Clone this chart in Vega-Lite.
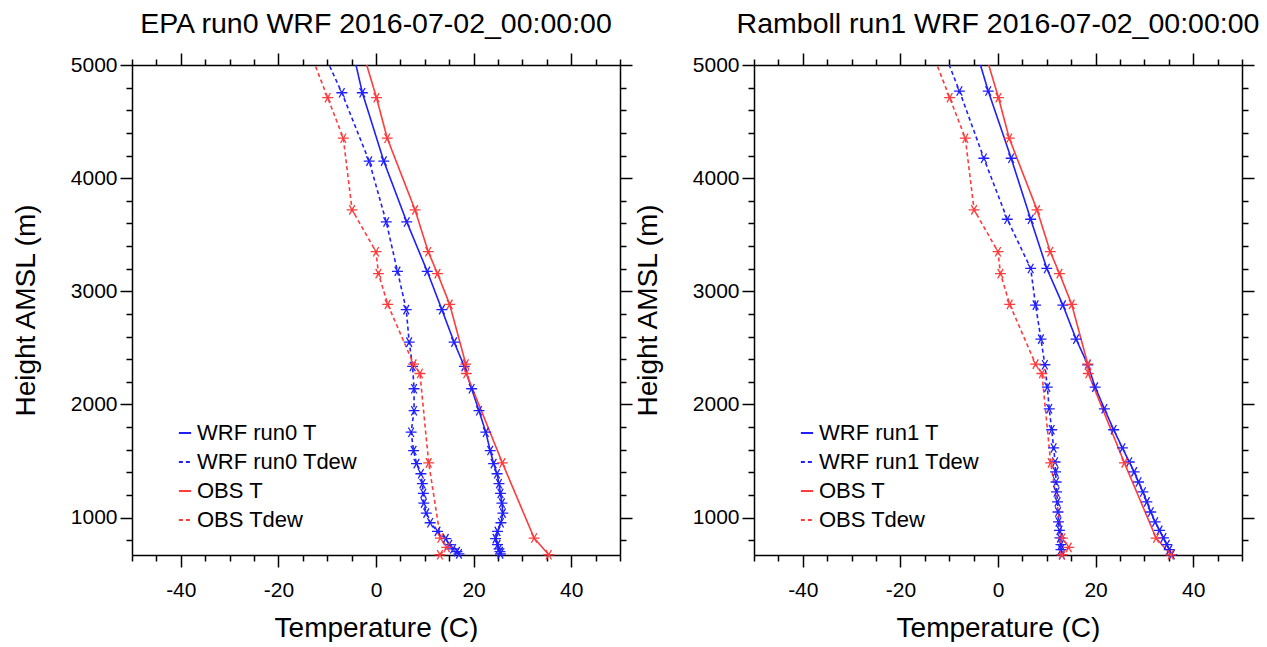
{
  "$schema": "https://vega.github.io/schema/vega-lite/v6.json",
  "background": "white",
  "padding": {"left": 12, "top": 9, "right": 10, "bottom": 0},
  "spacing": 1,
  "config": {
    "view": {"stroke": null},
    "font": "Liberation Sans",
    "title": {"fontSize": 28.5, "fontWeight": "normal", "color": "black", "anchor": "middle", "offset": 14, "font": "Liberation Sans"},
    "axis": {"grid": false, "domainColor": "black", "tickColor": "black", "domainWidth": 1.5, "tickWidth": 1.5, "labelColor": "black", "titleColor": "black", "labelFont": "Liberation Sans", "titleFont": "Liberation Sans", "titleFontWeight": "normal", "labelOverlap": false, "labelFlush": false}
  },
  "resolve": {"scale": {"color": "independent", "strokeDash": "independent", "stroke": "independent", "x": "independent", "y": "independent"}, "legend": {"color": "independent", "strokeDash": "independent"}},
  "datasets": {
    "left": [
      {"series": "WRF run0 T", "h": 5000, "t": -4.1}, {"series": "WRF run0 T", "h": 4755, "t": -2.8}, {"series": "WRF run0 T", "h": 4150, "t": 1.6}, {"series": "WRF run0 T", "h": 3613, "t": 6.3}, {"series": "WRF run0 T", "h": 3177, "t": 10.5}, {"series": "WRF run0 T", "h": 2838, "t": 13.5}, {"series": "WRF run0 T", "h": 2551, "t": 16.0}, {"series": "WRF run0 T", "h": 2336, "t": 18.1}, {"series": "WRF run0 T", "h": 2139, "t": 19.6}, {"series": "WRF run0 T", "h": 1945, "t": 21.1}, {"series": "WRF run0 T", "h": 1755, "t": 22.5}, {"series": "WRF run0 T", "h": 1593, "t": 23.4}, {"series": "WRF run0 T", "h": 1478, "t": 24.1}, {"series": "WRF run0 T", "h": 1388, "t": 24.8}, {"series": "WRF run0 T", "h": 1300, "t": 25.2}, {"series": "WRF run0 T", "h": 1215, "t": 25.5}, {"series": "WRF run0 T", "h": 1128, "t": 25.8}, {"series": "WRF run0 T", "h": 1040, "t": 26.0}, {"series": "WRF run0 T", "h": 955, "t": 25.6}, {"series": "WRF run0 T", "h": 879, "t": 24.9}, {"series": "WRF run0 T", "h": 815, "t": 24.5}, {"series": "WRF run0 T", "h": 762, "t": 24.9}, {"series": "WRF run0 T", "h": 725, "t": 25.2}, {"series": "WRF run0 T", "h": 700, "t": 25.4}, {"series": "WRF run0 T", "h": 680, "t": 25.5},
      {"series": "WRF run0 Tdew", "h": 5000, "t": -9.6}, {"series": "WRF run0 Tdew", "h": 4755, "t": -7.0}, {"series": "WRF run0 Tdew", "h": 4150, "t": -1.4}, {"series": "WRF run0 Tdew", "h": 3613, "t": 2.1}, {"series": "WRF run0 Tdew", "h": 3177, "t": 4.4}, {"series": "WRF run0 Tdew", "h": 2838, "t": 6.2}, {"series": "WRF run0 Tdew", "h": 2551, "t": 6.8}, {"series": "WRF run0 Tdew", "h": 2336, "t": 7.5}, {"series": "WRF run0 Tdew", "h": 2139, "t": 7.8}, {"series": "WRF run0 Tdew", "h": 1945, "t": 7.8}, {"series": "WRF run0 Tdew", "h": 1755, "t": 7.2}, {"series": "WRF run0 Tdew", "h": 1593, "t": 7.7}, {"series": "WRF run0 Tdew", "h": 1478, "t": 8.3}, {"series": "WRF run0 Tdew", "h": 1388, "t": 9.2}, {"series": "WRF run0 Tdew", "h": 1300, "t": 9.5}, {"series": "WRF run0 Tdew", "h": 1215, "t": 9.7}, {"series": "WRF run0 Tdew", "h": 1128, "t": 9.8}, {"series": "WRF run0 Tdew", "h": 1040, "t": 10.3}, {"series": "WRF run0 Tdew", "h": 955, "t": 11.1}, {"series": "WRF run0 Tdew", "h": 879, "t": 12.6}, {"series": "WRF run0 Tdew", "h": 815, "t": 14.3}, {"series": "WRF run0 Tdew", "h": 762, "t": 15.0}, {"series": "WRF run0 Tdew", "h": 725, "t": 15.8}, {"series": "WRF run0 Tdew", "h": 700, "t": 16.6}, {"series": "WRF run0 Tdew", "h": 680, "t": 17.0},
      {"series": "OBS T", "h": 5000, "t": -1.9}, {"series": "OBS T", "h": 4711, "t": 0.1}, {"series": "OBS T", "h": 4353, "t": 2.3}, {"series": "OBS T", "h": 3720, "t": 8.0}, {"series": "OBS T", "h": 3350, "t": 10.7}, {"series": "OBS T", "h": 3157, "t": 12.6}, {"series": "OBS T", "h": 2885, "t": 15.1}, {"series": "OBS T", "h": 2357, "t": 18.4}, {"series": "OBS T", "h": 2274, "t": 18.5}, {"series": "OBS T", "h": 1484, "t": 25.9}, {"series": "OBS T", "h": 820, "t": 32.4}, {"series": "OBS T", "h": 672, "t": 35.4},
      {"series": "OBS Tdew", "h": 5000, "t": -12.5}, {"series": "OBS Tdew", "h": 4711, "t": -9.9}, {"series": "OBS Tdew", "h": 4353, "t": -6.7}, {"series": "OBS Tdew", "h": 3720, "t": -4.9}, {"series": "OBS Tdew", "h": 3350, "t": 0.0}, {"series": "OBS Tdew", "h": 3157, "t": 0.5}, {"series": "OBS Tdew", "h": 2885, "t": 2.4}, {"series": "OBS Tdew", "h": 2357, "t": 7.7}, {"series": "OBS Tdew", "h": 2274, "t": 9.0}, {"series": "OBS Tdew", "h": 1484, "t": 10.8}, {"series": "OBS Tdew", "h": 820, "t": 13.2}, {"series": "OBS Tdew", "h": 737, "t": 14.5}, {"series": "OBS Tdew", "h": 672, "t": 13.1}
    ],
    "right": [
      {"series": "WRF run1 T", "h": 5000, "t": -3.6}, {"series": "WRF run1 T", "h": 4770, "t": -2.0}, {"series": "WRF run1 T", "h": 4176, "t": 2.7}, {"series": "WRF run1 T", "h": 3637, "t": 6.7}, {"series": "WRF run1 T", "h": 3202, "t": 10.0}, {"series": "WRF run1 T", "h": 2878, "t": 13.3}, {"series": "WRF run1 T", "h": 2578, "t": 16.0}, {"series": "WRF run1 T", "h": 2351, "t": 18.4}, {"series": "WRF run1 T", "h": 2154, "t": 19.9}, {"series": "WRF run1 T", "h": 1962, "t": 21.8}, {"series": "WRF run1 T", "h": 1777, "t": 23.7}, {"series": "WRF run1 T", "h": 1616, "t": 25.5}, {"series": "WRF run1 T", "h": 1492, "t": 26.9}, {"series": "WRF run1 T", "h": 1404, "t": 27.9}, {"series": "WRF run1 T", "h": 1315, "t": 28.8}, {"series": "WRF run1 T", "h": 1227, "t": 29.7}, {"series": "WRF run1 T", "h": 1139, "t": 30.5}, {"series": "WRF run1 T", "h": 1050, "t": 31.3}, {"series": "WRF run1 T", "h": 962, "t": 32.2}, {"series": "WRF run1 T", "h": 888, "t": 33.1}, {"series": "WRF run1 T", "h": 821, "t": 33.9}, {"series": "WRF run1 T", "h": 762, "t": 34.6}, {"series": "WRF run1 T", "h": 717, "t": 35.1}, {"series": "WRF run1 T", "h": 673, "t": 35.6},
      {"series": "WRF run1 Tdew", "h": 5000, "t": -10.0}, {"series": "WRF run1 Tdew", "h": 4770, "t": -7.9}, {"series": "WRF run1 Tdew", "h": 4176, "t": -2.9}, {"series": "WRF run1 Tdew", "h": 3637, "t": 1.9}, {"series": "WRF run1 Tdew", "h": 3202, "t": 6.7}, {"series": "WRF run1 Tdew", "h": 2878, "t": 7.7}, {"series": "WRF run1 Tdew", "h": 2578, "t": 8.8}, {"series": "WRF run1 Tdew", "h": 2351, "t": 9.6}, {"series": "WRF run1 Tdew", "h": 2154, "t": 10.1}, {"series": "WRF run1 Tdew", "h": 1962, "t": 10.5}, {"series": "WRF run1 Tdew", "h": 1777, "t": 11.0}, {"series": "WRF run1 Tdew", "h": 1616, "t": 11.4}, {"series": "WRF run1 Tdew", "h": 1492, "t": 11.7}, {"series": "WRF run1 Tdew", "h": 1404, "t": 11.8}, {"series": "WRF run1 Tdew", "h": 1315, "t": 11.9}, {"series": "WRF run1 Tdew", "h": 1227, "t": 12.0}, {"series": "WRF run1 Tdew", "h": 1139, "t": 12.2}, {"series": "WRF run1 Tdew", "h": 1050, "t": 12.3}, {"series": "WRF run1 Tdew", "h": 962, "t": 12.4}, {"series": "WRF run1 Tdew", "h": 888, "t": 12.6}, {"series": "WRF run1 Tdew", "h": 821, "t": 12.7}, {"series": "WRF run1 Tdew", "h": 762, "t": 12.9}, {"series": "WRF run1 Tdew", "h": 717, "t": 12.9}, {"series": "WRF run1 Tdew", "h": 673, "t": 13.1},
      {"series": "OBS T", "h": 5000, "t": -1.9}, {"series": "OBS T", "h": 4711, "t": 0.1}, {"series": "OBS T", "h": 4353, "t": 2.3}, {"series": "OBS T", "h": 3720, "t": 8.0}, {"series": "OBS T", "h": 3350, "t": 10.7}, {"series": "OBS T", "h": 3157, "t": 12.6}, {"series": "OBS T", "h": 2885, "t": 15.1}, {"series": "OBS T", "h": 2357, "t": 18.4}, {"series": "OBS T", "h": 2274, "t": 18.5}, {"series": "OBS T", "h": 1484, "t": 25.9}, {"series": "OBS T", "h": 820, "t": 32.4}, {"series": "OBS T", "h": 672, "t": 35.4},
      {"series": "OBS Tdew", "h": 5000, "t": -12.5}, {"series": "OBS Tdew", "h": 4711, "t": -9.9}, {"series": "OBS Tdew", "h": 4353, "t": -6.7}, {"series": "OBS Tdew", "h": 3720, "t": -4.9}, {"series": "OBS Tdew", "h": 3350, "t": 0.0}, {"series": "OBS Tdew", "h": 3157, "t": 0.5}, {"series": "OBS Tdew", "h": 2885, "t": 2.4}, {"series": "OBS Tdew", "h": 2357, "t": 7.7}, {"series": "OBS Tdew", "h": 2274, "t": 9.0}, {"series": "OBS Tdew", "h": 1484, "t": 10.8}, {"series": "OBS Tdew", "h": 820, "t": 13.2}, {"series": "OBS Tdew", "h": 737, "t": 14.5}, {"series": "OBS Tdew", "h": 672, "t": 13.1}
    ]
  },
  "hconcat": [
    {
      "width": 488, "height": 490,
      "title": {"text": "EPA run0 WRF 2016-07-02_00:00:00"},
      "data": {"name": "left"},
      "resolve": {"axis": {"x": "independent", "y": "independent"}},
      "layer": [
        {
          "mark": {"type": "line", "strokeWidth": 1.6},
          "encoding": {
            "x": {"field": "t", "type": "quantitative", "scale": {"domain": [-50, 50], "nice": false, "zero": false},
              "axis": {"orient": "bottom", "title": "Temperature (C)", "values": [-50,-45,-40,-35,-30,-25,-20,-15,-10,-5,0,5,10,15,20,25,30,35,40,45,50], "labelExpr": "datum.value % 20 === 0 ? '' + datum.value : ''", "tickSize": {"condition": {"test": "datum.value % 20 === 0", "value": 12}, "value": 6}, "labelFontSize": 21, "labelPadding": 12, "titleFontSize": 28, "titlePadding": 14}},
            "y": {"field": "h", "type": "quantitative", "scale": {"domain": [670, 5000], "nice": false, "zero": false},
              "axis": {"orient": "left", "title": "Height AMSL (m)", "values": [800,1000,1200,1400,1600,1800,2000,2200,2400,2600,2800,3000,3200,3400,3600,3800,4000,4200,4400,4600,4800,5000], "labelExpr": "datum.value % 1000 === 0 ? '' + datum.value : ''", "tickSize": {"condition": {"test": "datum.value % 1000 === 0", "value": 12}, "value": 6}, "labelFontSize": 21, "labelPadding": 3, "titleFontSize": 28, "titlePadding": 30}},
            "order": {"field": "h", "type": "quantitative"},
            "color": {"field": "series", "type": "nominal", "scale": {"domain": ["WRF run0 T", "WRF run0 Tdew", "OBS T", "OBS Tdew"], "range": ["#1f1fff", "#1f1fff", "#ff3b3b", "#ff3b3b"]},
              "legend": {"orient": "none", "legendX": 42, "legendY": 357, "title": null, "symbolType": "stroke", "symbolSize": 150, "symbolStrokeWidth": 2, "labelFontSize": 22, "labelColor": "black", "labelLimit": 400, "rowPadding": 7, "labelOffset": 1, "padding": 0}},
            "strokeDash": {"field": "series", "type": "nominal", "scale": {"domain": ["WRF run0 T", "WRF run0 Tdew", "OBS T", "OBS Tdew"], "range": [[1, 0], [4, 3], [1, 0], [4, 3]]}}
          }
        },
        {
          "transform": [{"filter": "datum.h < 4999"}],
          "mark": {"type": "point", "filled": false, "size": 120, "strokeWidth": 1.3, "opacity": 1, "shape": "M-1,0L1,0M-0.5,-0.866L0.5,0.866M-0.5,0.866L0.5,-0.866"},
          "encoding": {
            "x": {"field": "t", "type": "quantitative", "scale": {"domain": [-50, 50], "nice": false, "zero": false},
              "axis": {"orient": "top", "title": null, "labels": false, "values": [-50,-45,-40,-35,-30,-25,-20,-15,-10,-5,0,5,10,15,20,25,30,35,40,45,50], "tickSize": {"condition": {"test": "datum.value % 20 === 0", "value": 12}, "value": 6}}},
            "y": {"field": "h", "type": "quantitative", "scale": {"domain": [670, 5000], "nice": false, "zero": false},
              "axis": {"orient": "right", "title": null, "labels": false, "values": [800,1000,1200,1400,1600,1800,2000,2200,2400,2600,2800,3000,3200,3400,3600,3800,4000,4200,4400,4600,4800,5000], "tickSize": {"condition": {"test": "datum.value % 1000 === 0", "value": 12}, "value": 6}}},
            "stroke": {"field": "series", "type": "nominal", "legend": null, "scale": {"domain": ["WRF run0 T", "WRF run0 Tdew", "OBS T", "OBS Tdew"], "range": ["#1f1fff", "#1f1fff", "#ff3b3b", "#ff3b3b"]}}
          }
        }
      ]
    },
    {
      "width": 488, "height": 490,
      "title": {"text": "Ramboll run1 WRF 2016-07-02_00:00:00"},
      "data": {"name": "right"},
      "resolve": {"axis": {"x": "independent", "y": "independent"}},
      "layer": [
        {
          "mark": {"type": "line", "strokeWidth": 1.6},
          "encoding": {
            "x": {"field": "t", "type": "quantitative", "scale": {"domain": [-50, 50], "nice": false, "zero": false},
              "axis": {"orient": "bottom", "title": "Temperature (C)", "values": [-50,-45,-40,-35,-30,-25,-20,-15,-10,-5,0,5,10,15,20,25,30,35,40,45,50], "labelExpr": "datum.value % 20 === 0 ? '' + datum.value : ''", "tickSize": {"condition": {"test": "datum.value % 20 === 0", "value": 12}, "value": 6}, "labelFontSize": 21, "labelPadding": 12, "titleFontSize": 28, "titlePadding": 14}},
            "y": {"field": "h", "type": "quantitative", "scale": {"domain": [670, 5000], "nice": false, "zero": false},
              "axis": {"orient": "left", "title": "Height AMSL (m)", "values": [800,1000,1200,1400,1600,1800,2000,2200,2400,2600,2800,3000,3200,3400,3600,3800,4000,4200,4400,4600,4800,5000], "labelExpr": "datum.value % 1000 === 0 ? '' + datum.value : ''", "tickSize": {"condition": {"test": "datum.value % 1000 === 0", "value": 12}, "value": 6}, "labelFontSize": 21, "labelPadding": 3, "titleFontSize": 28, "titlePadding": 30}},
            "order": {"field": "h", "type": "quantitative"},
            "color": {"field": "series", "type": "nominal", "scale": {"domain": ["WRF run1 T", "WRF run1 Tdew", "OBS T", "OBS Tdew"], "range": ["#1f1fff", "#1f1fff", "#ff3b3b", "#ff3b3b"]},
              "legend": {"orient": "none", "legendX": 42, "legendY": 357, "title": null, "symbolType": "stroke", "symbolSize": 150, "symbolStrokeWidth": 2, "labelFontSize": 22, "labelColor": "black", "labelLimit": 400, "rowPadding": 7, "labelOffset": 1, "padding": 0}},
            "strokeDash": {"field": "series", "type": "nominal", "scale": {"domain": ["WRF run1 T", "WRF run1 Tdew", "OBS T", "OBS Tdew"], "range": [[1, 0], [4, 3], [1, 0], [4, 3]]}}
          }
        },
        {
          "transform": [{"filter": "datum.h < 4999"}],
          "mark": {"type": "point", "filled": false, "size": 120, "strokeWidth": 1.3, "opacity": 1, "shape": "M-1,0L1,0M-0.5,-0.866L0.5,0.866M-0.5,0.866L0.5,-0.866"},
          "encoding": {
            "x": {"field": "t", "type": "quantitative", "scale": {"domain": [-50, 50], "nice": false, "zero": false},
              "axis": {"orient": "top", "title": null, "labels": false, "values": [-50,-45,-40,-35,-30,-25,-20,-15,-10,-5,0,5,10,15,20,25,30,35,40,45,50], "tickSize": {"condition": {"test": "datum.value % 20 === 0", "value": 12}, "value": 6}}},
            "y": {"field": "h", "type": "quantitative", "scale": {"domain": [670, 5000], "nice": false, "zero": false},
              "axis": {"orient": "right", "title": null, "labels": false, "values": [800,1000,1200,1400,1600,1800,2000,2200,2400,2600,2800,3000,3200,3400,3600,3800,4000,4200,4400,4600,4800,5000], "tickSize": {"condition": {"test": "datum.value % 1000 === 0", "value": 12}, "value": 6}}},
            "stroke": {"field": "series", "type": "nominal", "legend": null, "scale": {"domain": ["WRF run1 T", "WRF run1 Tdew", "OBS T", "OBS Tdew"], "range": ["#1f1fff", "#1f1fff", "#ff3b3b", "#ff3b3b"]}}
          }
        }
      ]
    }
  ]
}
